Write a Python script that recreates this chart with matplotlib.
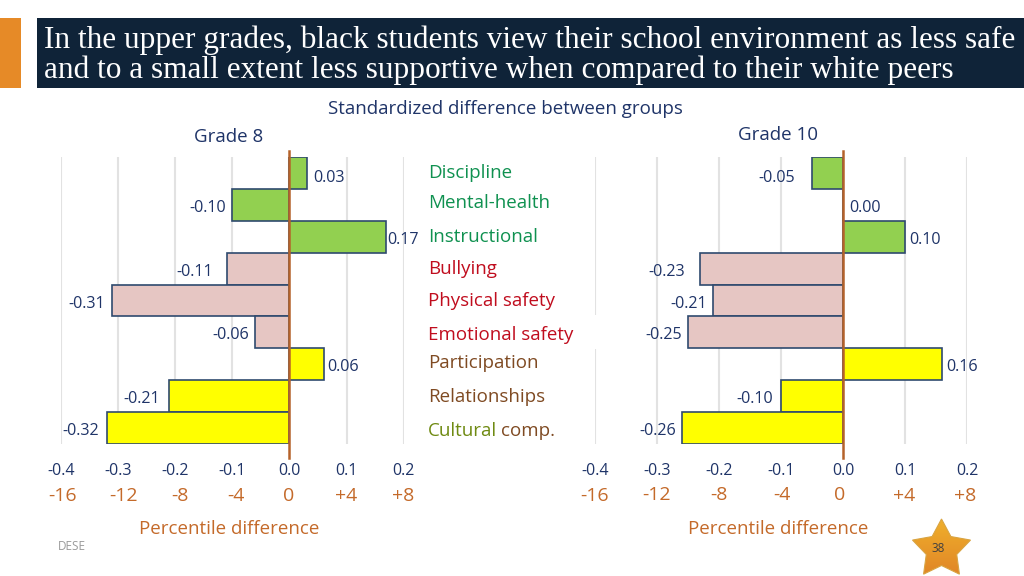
import numpy as np
import matplotlib
matplotlib.use("Agg")
import matplotlib.pyplot as plt
from matplotlib.patches import Rectangle, Polygon

plt.rcParams["font.family"] = ["Open Sans", "DejaVu Sans"]

# data
grade8 = [0.03, -0.10, 0.17, -0.11, -0.31, -0.06, 0.06, -0.21, -0.32]
grade10 = [-0.05, 0.00, 0.10, -0.23, -0.21, -0.25, 0.16, -0.10, -0.26]
categories = ["Discipline", "Mental-health", "Instructional", "Bullying", "Physical safety",
              "Emotional safety", "Participation", "Relationships", "Cultural"]
cat_colors = ["#0f9150", "#0f9150", "#0f9150", "#c00d1e", "#c00d1e", "#c00d1e",
              "#7f4a22", "#7f4a22", "#6f8a12"]
bar_colors = ["#92d050"] * 3 + ["#e6c6c3"] * 3 + ["#ffff00"] * 3
ticks = [-0.4, -0.3, -0.2, -0.1, 0.0, 0.1, 0.2]
pct_labels = ["-16", "-12", "-8", "-4", "0", "+4", "+8"]

NAVY = "#1f3468"
ORANGE = "#c46a2a"
W, H = 1024, 576

fig = plt.figure(figsize=(10.24, 5.76), dpi=100)


def px_axes(x0, x1, y0, y1):
    return fig.add_axes([x0 / W, 1 - y1 / H, (x1 - x0) / W, (y1 - y0) / H])


# overlay in pixel coordinates for the slide furniture
bg = px_axes(0, W, 0, H)
bg.set_xlim(0, W)
bg.set_ylim(H, 0)
bg.axis("off")
bg.add_patch(Rectangle((0, 18), 21, 70, color="#e68a27", lw=0))
bg.add_patch(Rectangle((37, 18), W - 37, 70, color="#0f2338", lw=0))
bg.text(44, 40, "In the upper grades, black students view their school environment as less safe",
        family="Liberation Serif", fontsize=22.5, color="white", va="center")
bg.text(44, 70, "and to a small extent less supportive when compared to their white peers",
        family="Liberation Serif", fontsize=22.5, color="white", va="center")
bg.text(505, 109.5, "Standardized difference between groups", fontsize=13.5, color=NAVY, ha="center", va="center")
bg.text(229, 136.5, "Grade 8", fontsize=13.5, color=NAVY, ha="center", va="center")
bg.text(778, 134.5, "Grade 10", fontsize=13.5, color=NAVY, ha="center", va="center")
bg.text(229, 529.5, "Percentile difference", fontsize=13.5, color=ORANGE, ha="center", va="center")
bg.text(778, 529.5, "Percentile difference", fontsize=13.5, color=ORANGE, ha="center", va="center")
bg.text(58, 546, "DESE", fontsize=8.5, color="#9a9a9a", va="center")


def draw_panel(ax, values, gaps, pct_y, pct_shift):
    ax.set_ylim(len(values), 0)
    ax.set_xlim(-0.4, 0.2)
    pos = np.arange(len(values)) + 0.5
    ax.barh(pos, values, height=1.0, color=bar_colors, edgecolor="#2f4a6e", linewidth=1.2, zorder=2)
    ax.set_xticks(ticks)
    ax.set_xticklabels(["%.1f" % t for t in ticks], fontsize=11.5, color=NAVY)
    ax.set_yticks([])
    ax.tick_params(axis="x", length=0, pad=14)
    ax.grid(axis="x", color="#e2e2e2", linewidth=1.5, zorder=0)
    ax.set_axisbelow(True)
    for s in ax.spines.values():
        s.set_visible(False)
    ax.plot([0, 0], [-0.2, 9.45], color="#b5622a", linewidth=1.8, zorder=3, clip_on=False)
    for i, (y, v, g) in enumerate(zip(pos, values, gaps)):
        ha = "left" if v >= 0 else "right"
        dy = -5 if i == 0 else -3  # first label sits a bit lower in the original
        ax.annotate("%.2f" % v, (v, y), xytext=(g if v >= 0 else -g, dy), textcoords="offset pixels",
                    fontsize=11.6, color=NAVY, ha=ha, va="center", zorder=4)
    for t, lab, yy, dx in zip(ticks, pct_labels, pct_y, pct_shift):
        ax.annotate(lab, (t, 9), xytext=(dx, 444 - yy), textcoords="offset pixels",
                    fontsize=14, color=ORANGE, ha="center", va="center", annotation_clip=False)


ax8 = px_axes(61, 403.6, 157, 444)
draw_panel(ax8, grade8, [7, 6, 1, 14, 7, 6, 4, 9, 8], [496] * 7, [2, 5, 5, 4, -1, 0, 0])
ax10 = px_axes(595, 967, 157, 444)
draw_panel(ax10, grade10, [17, 6, 4, 15, 6, 6, 4, 8, 6], [496, 495, 495, 495, 495, 496, 496], [0, 0, 0, 1, -3, -1, -2])

# white mask behind the middle labels, it cuts the left gridline of grade 10
bg2 = px_axes(0, W, 0, H)
bg2.set_xlim(0, W)
bg2.set_ylim(H, 0)
bg2.axis("off")
bg2.add_patch(Rectangle((420, 315), 178, 34, color="white", lw=0))
label_y = [173.5, 203.5, 237.5, 268.5, 301.5, 334.5, 363.5, 397.5, 431.5]
for name, col, yy in zip(categories, cat_colors, label_y):
    bg2.text(428, yy, name, fontsize=13.5, color=col, va="center")
bg2.text(501, 431.5, "comp.", fontsize=13.5, color="#7f4a22", va="center")

# page number star
ang = np.pi / 2 + np.arange(10) * np.pi / 5
rad = np.where(np.arange(10) % 2 == 0, 30.5, 16)
star = np.column_stack([941.5 + rad * np.cos(ang), 549.5 - rad * np.sin(ang)])
grad = np.linspace(0, 1, 64).reshape(-1, 1)
im = bg2.imshow(grad, extent=(910, 973, 580, 518), aspect="auto", zorder=5,
                cmap=matplotlib.colors.LinearSegmentedColormap.from_list("s", ["#f0b02c", "#df8226"]))
poly = Polygon(star, closed=True, facecolor="none", edgecolor="#d9a441", linewidth=0.8, zorder=6)
bg2.add_patch(poly)
im.set_clip_path(poly)
bg2.set_xlim(0, W)
bg2.set_ylim(H, 0)
bg2.text(938.5, 549, "38", fontsize=8.5, color="#404040", ha="center", va="center", zorder=7)

fig.savefig("out.png", dpi=100)
